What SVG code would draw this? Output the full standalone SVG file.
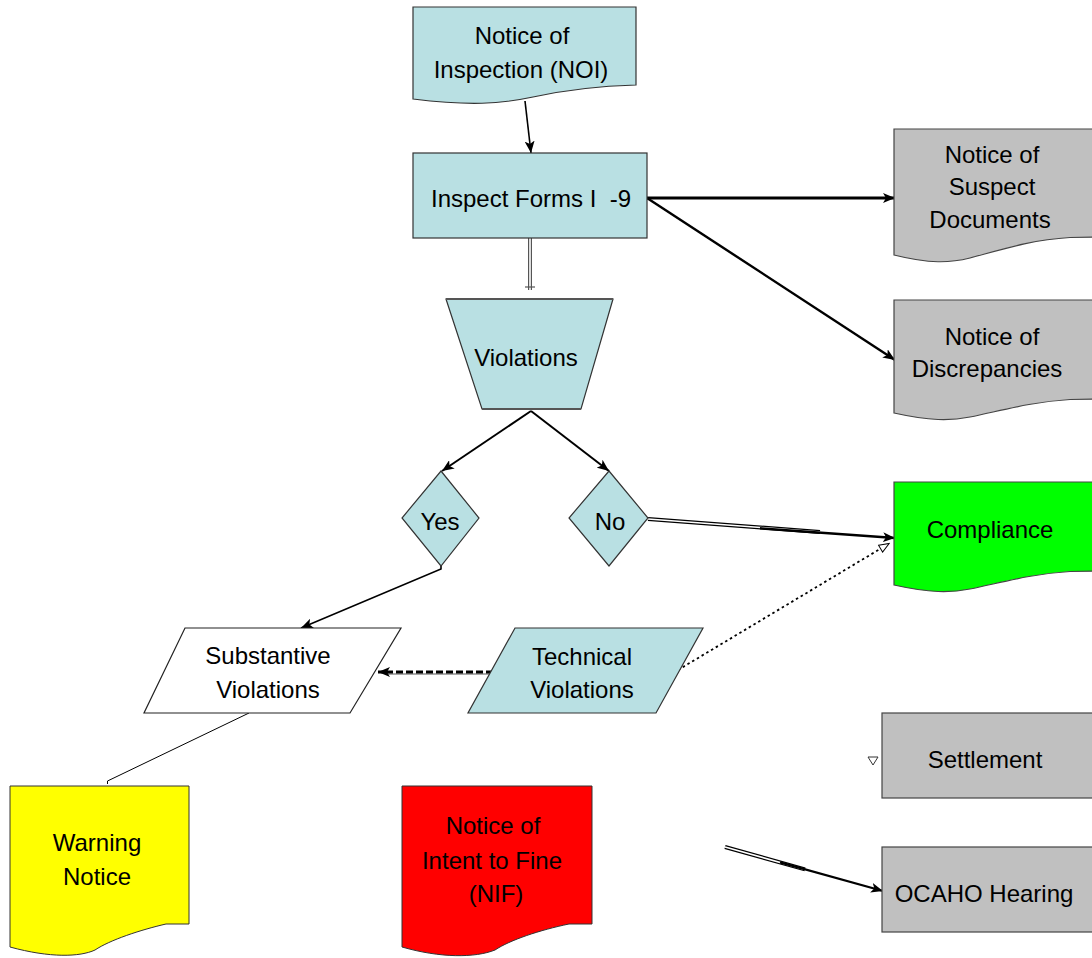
<svg xmlns="http://www.w3.org/2000/svg" width="1092" height="958" viewBox="0 0 1092 958">
<style>
.t{font-family:"Liberation Sans",Arial,sans-serif;font-size:24px;fill:#000;text-anchor:middle}
.teal{fill:#B9E0E3;stroke:#333;stroke-width:1.2}
.gray{fill:#C0C0C0;stroke:#444;stroke-width:1.2}
.c{fill:none;stroke:#000}
</style>
<defs>
<marker id="ah" viewBox="0 0 12 10" refX="12" refY="5" markerWidth="12" markerHeight="10" markerUnits="userSpaceOnUse" orient="auto">
<path d="M0,0 L12,5 L0,10 L3,5 z" fill="#000"/>
</marker>
<marker id="oh" viewBox="0 0 12 10" refX="12" refY="5" markerWidth="12" markerHeight="10" markerUnits="userSpaceOnUse" orient="auto">
<path d="M1,1 L11,5 L1,9 z" fill="#fff" stroke="#000" stroke-width="1"/>
</marker>
</defs>
<rect width="1092" height="958" fill="#fff"/>

<g id="connectors">
<line class="c" x1="525" y1="101" x2="531" y2="153" stroke-width="1.6" marker-end="url(#ah)"/>
<line x1="530" y1="238" x2="530" y2="290" stroke="#555" stroke-width="4"/>
<line x1="530" y1="238" x2="530" y2="290" stroke="#fff" stroke-width="1.6"/>
<line x1="525" y1="287" x2="535" y2="287" stroke="#555" stroke-width="1.2"/>
<line class="c" x1="647" y1="198" x2="895" y2="198" stroke-width="3" marker-end="url(#ah)"/>
<line class="c" x1="647" y1="198" x2="895" y2="360" stroke-width="2.4" marker-end="url(#ah)"/>
<line class="c" x1="531" y1="411" x2="442" y2="471" stroke-width="2" marker-end="url(#ah)"/>
<line class="c" x1="531" y1="411" x2="609" y2="471" stroke-width="2" marker-end="url(#ah)"/>
<line x1="648" y1="519" x2="820" y2="532" stroke="#000" stroke-width="4"/>
<line x1="648" y1="519" x2="820" y2="532" stroke="#fff" stroke-width="1.6"/>
<line class="c" x1="760" y1="528.3" x2="895" y2="538" stroke-width="2.4" marker-end="url(#ah)"/>
<polyline class="c" points="441,566 441,569 301,628" stroke-width="1.6" marker-end="url(#ah)"/>
<line x1="493" y1="674" x2="385" y2="674" stroke="#aaa" stroke-width="2"/>
<line class="c" x1="493" y1="672" x2="378" y2="672" stroke-width="3" stroke-dasharray="7,3" marker-end="url(#ah)"/>
<line class="c" x1="678" y1="670" x2="890" y2="543" stroke-width="1.8" stroke-dasharray="2.5,3" marker-end="url(#oh)"/>
<polyline class="c" points="249,713 107.5,781 107.5,784" stroke-width="1"/>
<path d="M868,757 L878,757 L873,765 z" fill="#fff" stroke="#333" stroke-width="1"/>
<line x1="725" y1="847" x2="805" y2="869.4" stroke="#000" stroke-width="4"/>
<line x1="725" y1="847" x2="805" y2="869.4" stroke="#fff" stroke-width="1.6"/>
<line class="c" x1="780" y1="862.4" x2="883" y2="891" stroke-width="2.2" marker-end="url(#ah)"/>
</g>

<g id="noi">
<path class="teal" d="M413,7 H636 V85 C600,86 565,90 533,97 C500,104 470,106 413,99 Z"/>
<text class="t" x="522" y="44">Notice of</text>
<text class="t" x="521" y="78">Inspection (NOI)</text>
</g>

<g id="inspect">
<rect class="teal" x="413" y="153" width="234" height="85"/>
<text class="t" x="531" y="207" style="white-space:pre" xml:space="preserve">Inspect Forms I  -9</text>
</g>

<g id="suspect">
<path class="gray" d="M894,129 H1100 V237 L1070,237.5 C1030,240 1000,250 970,258 C950,263 930,264 894,255 Z"/>
<text class="t" x="992" y="163">Notice of</text>
<text class="t" x="992" y="195">Suspect</text>
<text class="t" x="990" y="228">Documents</text>
</g>

<g id="discrepancies">
<path class="gray" d="M894,300 H1100 V399 L1070,399.5 C1030,402 1000,411 970,417 C950,421 930,421 894,413 Z"/>
<text class="t" x="992" y="345">Notice of</text>
<text class="t" x="987" y="377">Discrepancies</text>
</g>

<g id="violations">
<polygon class="teal" points="446,299 613,299 581,409 482,409"/>
<line x1="446" y1="299" x2="613" y2="299" stroke="#555" stroke-width="2"/>
<line x1="482" y1="409" x2="581" y2="409" stroke="#555" stroke-width="2"/>
<text class="t" x="526" y="366">Violations</text>
</g>

<g id="yes">
<polygon class="teal" points="441,471 479,518 441,566 402,518"/>
<text class="t" x="440" y="530">Yes</text>
</g>

<g id="no">
<polygon class="teal" points="609,471 648,518 609,566 569,518"/>
<text class="t" x="610" y="530">No</text>
</g>

<g id="compliance">
<path d="M894,482 H1100 V571 L1070,571.5 C1030,574 1000,583 970,589 C950,593 930,593 894,585 Z" fill="#00FF00" stroke="#444" stroke-width="1.2"/>
<text class="t" x="990" y="538">Compliance</text>
</g>

<g id="substantive">
<polygon points="185,628 401,628 350,713 144,713" fill="#fff" stroke="#222" stroke-width="1.2"/>
<text class="t" x="268" y="664">Substantive</text>
<text class="t" x="268" y="698">Violations</text>
</g>

<g id="technical">
<polygon class="teal" points="515,628 703,628 656,713 468,713"/>
<text class="t" x="582" y="665">Technical</text>
<text class="t" x="582" y="698">Violations</text>
</g>

<g id="warning">
<path d="M10,786 H189 V924 H166 C140,930 110,940 95,950 C80,957 50,958 10,947 Z" fill="#FFFF00" stroke="#333" stroke-width="1"/>
<text class="t" x="97" y="851">Warning</text>
<text class="t" x="97" y="885">Notice</text>
</g>

<g id="nif">
<path d="M402,786 H592 V924 H569 C540,930 510,940 495,950 C475,958 440,958 402,947 Z" fill="#FF0000" stroke="#333" stroke-width="1"/>
<text class="t" x="493" y="834">Notice of</text>
<text class="t" x="492" y="869">Intent to Fine</text>
<text class="t" x="496" y="902">(NIF)</text>
</g>

<g id="settlement">
<rect class="gray" x="882" y="713" width="218" height="85"/>
<text class="t" x="985" y="768">Settlement</text>
</g>

<g id="ocaho">
<rect class="gray" x="882" y="847" width="218" height="85"/>
<text class="t" x="984" y="902">OCAHO Hearing</text>
</g>
</svg>
